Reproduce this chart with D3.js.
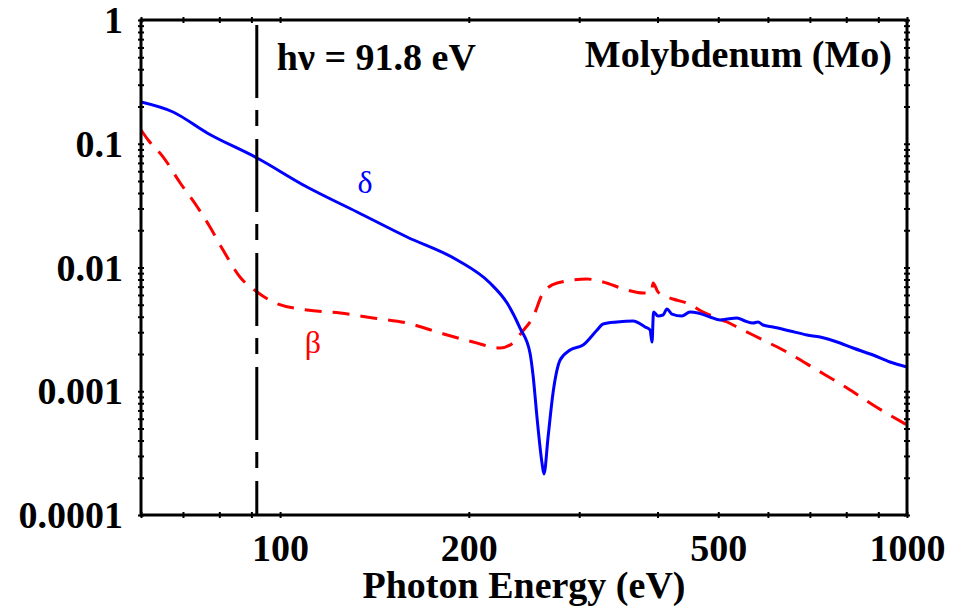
<!DOCTYPE html>
<html>
<head>
<meta charset="utf-8">
<script src="https://cdn.jsdelivr.net/npm/d3@7"></script>
<style>
  html, body { margin: 0; padding: 0; background: #fff; }
  svg { display: block; }
  text { font-family: "Liberation Serif", "Times New Roman", serif; }
</style>
</head>
<body>
<svg id="chart" width="963" height="610"></svg>
<script>
// Optical constants of molybdenum: delta (refractive decrement) and beta (absorption index)
const energyDelta = [60, 67.5, 76.5, 91.9, 110.4, 132.7, 159.4, 191.6, 216.2, 230.2, 241.4, 250.4, 253.2, 256.9,
  261.7, 263.6, 267.6, 272.5, 279.7, 290.1, 304.3, 320.4, 327.5, 344.7, 365.6, 382.1, 389.2, 392.0, 394.2, 400.7,
  408.1, 414.1, 421.8, 437.5, 450.6, 464.1, 485.1, 503.2, 516.3, 535.6, 551.6, 568.1, 578.6, 589.3, 611.4, 650.8,
  692.7, 726.6, 782.0, 820.2, 882.8, 939.5, 1000];
const delta = [0.2175, 0.1805, 0.1222, 0.0767, 0.0447, 0.0281, 0.01764, 0.0115, 0.00749, 0.00516, 0.00324, 0.00204,
  0.001353, 0.000619, 0.000263, 0.0002145, 0.000427, 0.000968, 0.001788, 0.002154, 0.002364, 0.003126, 0.003494,
  0.003627, 0.003695, 0.003305, 0.003126, 0.0025, 0.004369, 0.004055, 0.004131, 0.004619, 0.004208, 0.004055,
  0.004369, 0.004288, 0.003981, 0.003765, 0.003836, 0.003908, 0.003695, 0.00356, 0.003627, 0.003431, 0.003305,
  0.003069, 0.002848, 0.002744, 0.002454, 0.002236, 0.001963, 0.001723, 0.00157];

const energyBeta = [60, 61.6, 65.1, 69.3, 73.8, 77.3, 81.1, 86.3, 91.9, 97.5, 110.4, 124.7, 140.7, 159.4, 180.0,
  203.2, 224.3, 235.3, 243.2, 253.2, 262.7, 276.6, 308.8, 327.5, 357.7, 379.3, 390.6, 393.6, 400.7, 423.4, 445.9,
  472.9, 497.7, 516.3, 535.6, 568.1, 589.3, 634.2, 718.6, 802.4, 882.8, 1000];
const beta = [0.1292, 0.1072, 0.0781, 0.0482, 0.0308, 0.02125, 0.01385, 0.00838, 0.00634, 0.00526, 0.00453, 0.00429,
  0.00391, 0.00356, 0.00296, 0.0025, 0.002236, 0.002454, 0.003012, 0.003981, 0.00622, 0.00749, 0.00807, 0.00763,
  0.00658, 0.00622, 0.00622, 0.00749, 0.00634, 0.005565, 0.00516, 0.004369, 0.00391, 0.003627, 0.003305, 0.002848,
  0.002595, 0.002154, 0.001485, 0.001062, 0.000774, 0.000534];

// Axis ticks
const xMajorTicks = [100, 200, 500, 1000];
const xMinorTicks = [60, 70, 80, 90, 300, 400, 600, 700, 800, 900];
const xTickLabels = ["100", "200", "500", "1000"];
const yMajorTicks = [1, 0.1, 0.01, 0.001, 0.0001];
const yTickLabels = ["1", "0.1", "0.01", "0.001", "0.0001"];
const yMinorTicks = [];
[0.0001, 0.001, 0.01, 0.1].forEach(d => { for (let k = 2; k <= 9; k++) yMinorTicks.push(+(d * k).toPrecision(3)); });

const photonEnergy = 91.8;

const margin = { left: 141, right: 56, top: 20, bottom: 95 };
const W = 963, H = 610;
const innerW = W - margin.left - margin.right;
const innerH = H - margin.top - margin.bottom;

const svg = d3.select("#chart");
const g = svg.append("g").attr("transform", `translate(${margin.left},${margin.top})`);

const x = d3.scaleLog().domain([60, 1000]).range([0, innerW]);
const y = d3.scaleLog().domain([0.0001, 1]).range([innerH, 0]);

g.append("clipPath").attr("id", "plotClip")
  .append("rect").attr("width", innerW).attr("height", innerH);

// Curves
const mk = (xs, ys) => d3.line()
  .x(d => x(d[0])).y(d => y(d[1]))
  .curve(d3.curveMonotoneX)(xs.map((e, i) => [e, ys[i]]));

const plot = g.append("g").attr("clip-path", "url(#plotClip)");

plot.append("path")
  .attr("d", mk(energyBeta, beta))
  .attr("fill", "none").attr("stroke", "#ff0000").attr("stroke-width", 3)
  .attr("stroke-dasharray", "17,11");

plot.append("path")
  .attr("d", mk(energyDelta, delta))
  .attr("fill", "none").attr("stroke", "#0000ff").attr("stroke-width", 3)
  .attr("stroke-linejoin", "round");

// Marker line at the chosen photon energy
g.append("line")
  .attr("x1", x(photonEnergy)).attr("x2", x(photonEnergy))
  .attr("y1", 5).attr("y2", innerH)
  .attr("stroke", "#000").attr("stroke-width", 3)
  .attr("stroke-dasharray", "73,12,16,13");

// Axes (ticks straddle the frame)
function styleTicks(sel, horizontal) {
  sel.select(".domain").remove();
  sel.selectAll(".tick line")
    .attr("stroke", "#000").attr("stroke-width", 2)
    .attr(horizontal ? "y1" : "x1", -3).attr(horizontal ? "y2" : "x2", 3);
}

[[0, false], [innerH, true]].forEach(([ty, labels]) => {
  const gx = g.append("g").attr("transform", `translate(0,${ty})`)
    .call(d3.axisBottom(x).tickValues(xMajorTicks)
      .tickFormat((d, i) => labels ? xTickLabels[i] : ""));
  styleTicks(gx, true);
  const gxm = g.append("g").attr("transform", `translate(0,${ty})`)
    .call(d3.axisBottom(x).tickValues(xMinorTicks).tickFormat(""));
  styleTicks(gxm, true);
  if (labels) {
    gx.selectAll(".tick text")
      .attr("y", 46).attr("dy", 0)
      .style("font-family", "'Liberation Serif', 'Times New Roman', serif")
      .style("font-size", "38px").style("font-weight", "bold").attr("fill", "#000");
  }
});

[[0, true], [innerW, false]].forEach(([tx, labels]) => {
  const gy = g.append("g").attr("transform", `translate(${tx},0)`)
    .call(d3.axisLeft(y).tickValues(yMajorTicks)
      .tickFormat((d, i) => labels ? yTickLabels[i] : ""));
  styleTicks(gy, false);
  const gym = g.append("g").attr("transform", `translate(${tx},0)`)
    .call(d3.axisLeft(y).tickValues(yMinorTicks).tickFormat(""));
  styleTicks(gym, false);
  if (labels) {
    gy.selectAll(".tick text")
      .attr("x", -18).attr("dy", "0.33em")
      .style("font-family", "'Liberation Serif', 'Times New Roman', serif")
      .style("font-size", "38px").style("font-weight", "bold").attr("fill", "#000");
  }
});

// Frame
g.append("rect")
  .attr("width", innerW).attr("height", innerH)
  .attr("fill", "none").attr("stroke", "#000").attr("stroke-width", 3);

// Labels
g.append("text")
  .attr("x", innerW / 2).attr("y", innerH + 83)
  .attr("text-anchor", "middle")
  .style("font-size", "38px").style("font-weight", "bold")
  .text("Photon Energy (eV)");

g.append("text")
  .attr("x", x(photonEnergy) + 20).attr("y", 50)
  .style("font-size", "38px").style("font-weight", "bold")
  .text("hν = 91.8 eV");

g.append("text")
  .attr("x", 751).attr("y", 47)
  .attr("text-anchor", "end")
  .style("font-size", "38px").style("font-weight", "bold")
  .text("Molybdenum (Mo)");

g.append("text")
  .attr("x", 224).attr("y", 173)
  .attr("text-anchor", "middle")
  .attr("fill", "#0000ff")
  .style("font-size", "32px")
  .text("δ");

g.append("text")
  .attr("x", 172).attr("y", 333)
  .attr("text-anchor", "middle")
  .attr("fill", "#ff0000")
  .style("font-size", "32px")
  .text("β");
</script>
</body>
</html>
